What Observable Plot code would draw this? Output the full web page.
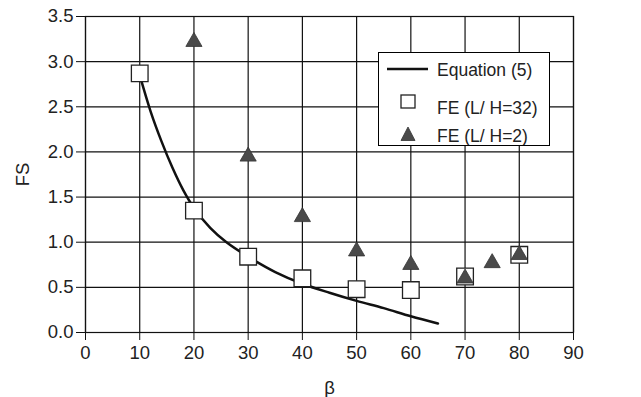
<!DOCTYPE html>
<html>
<head>
<meta charset="utf-8">
<script src="https://cdn.jsdelivr.net/npm/d3@7"></script>
<script src="https://cdn.jsdelivr.net/npm/@observablehq/plot@0.6"></script>
<style>
  html, body { margin: 0; padding: 0; background: #fff; }
  #wrap { position: relative; width: 641px; height: 397px; font-family: "Liberation Sans", Arial, sans-serif; }
  #legend { position: absolute; left: 378px; top: 52px; width: 172px; height: 94px; box-sizing: border-box; border: 1.3px solid #000; background: #fff; }
</style>
</head>
<body>
<div id="wrap">
  <div id="chart"></div>
  <div id="legend">
    <svg width="170" height="92" style="display:block">
      <line x1="8" x2="49" y1="16" y2="16" stroke="#111" stroke-width="2.5"/>
      <text x="58" y="22.5" font-size="17.5" fill="#222" font-family="Liberation Sans, Arial, sans-serif">Equation (5)</text>
      <rect x="22" y="42" width="14" height="13" fill="#fff" stroke="#222" stroke-width="1.3"/>
      <text x="58" y="61" font-size="17.5" fill="#222" font-family="Liberation Sans, Arial, sans-serif">FE (L/ H=32)</text>
      <path d="M29,74 L36,87.5 L22,87.5 Z" fill="#4a4a4a" stroke="#333" stroke-width="0.8"/>
      <text x="58" y="88.5" font-size="17.5" fill="#222" font-family="Liberation Sans, Arial, sans-serif">FE (L/ H=2)</text>
    </svg>
  </div>
</div>
<script>
// Equation (5) curve
const eqBeta = [10, 12, 14, 16, 18, 20, 23, 26, 30, 35, 40, 45, 50, 55, 60, 65];
const eqFS   = [2.85, 2.45, 2.12, 1.83, 1.58, 1.38, 1.16, 1.00, 0.84, 0.67, 0.54, 0.44, 0.35, 0.27, 0.18, 0.10];

// FE (L/H=32) squares
const fe32Beta = [10, 20, 30, 40, 50, 60, 70, 80];
const fe32FS   = [2.87, 1.35, 0.84, 0.60, 0.48, 0.47, 0.62, 0.86];

// FE (L/H=2) triangles
const fe2Beta = [20, 30, 40, 50, 60, 70, 75, 80];
const fe2FS   = [3.22, 1.95, 1.28, 0.90, 0.75, 0.60, 0.77, 0.86];

const xTicks = [0, 10, 20, 30, 40, 50, 60, 70, 80, 90];
const yTicks = [0, 0.5, 1.0, 1.5, 2.0, 2.5, 3.0, 3.5];

const eq = eqBeta.map((b, i) => ({beta: b, fs: eqFS[i]}));
const fe32 = fe32Beta.map((b, i) => ({beta: b, fs: fe32FS[i]}));
const fe2 = fe2Beta.map((b, i) => ({beta: b, fs: fe2FS[i]}));

const chart = Plot.plot({
  width: 641,
  height: 397,
  marginLeft: 85,
  marginRight: 68,
  marginTop: 16,
  marginBottom: 65,
  style: {fontFamily: "Liberation Sans, Arial, sans-serif", fontSize: "18px", color: "#222", background: "#fff"},
  x: {domain: [0, 90]},
  y: {domain: [0, 3.5]},
  marks: [
    Plot.gridX(xTicks, {stroke: "#111", strokeOpacity: 1, strokeWidth: 1.2}),
    Plot.gridY(yTicks, {stroke: "#111", strokeOpacity: 1, strokeWidth: 1.2}),
    Plot.frame({stroke: "#111", strokeWidth: 1.2}),
    Plot.axisX(xTicks, {tickSize: 8, tickPadding: 5, fontSize: 18.5, stroke: "#111",
      label: "β", labelAnchor: "center", labelArrow: "none", labelOffset: 61}),
    Plot.axisY(yTicks, {tickSize: 9, tickPadding: 3, tickFormat: d3.format(".1f"), fontSize: 18.5, stroke: "#111",
      label: "FS", labelAnchor: "center", labelArrow: "none", labelOffset: 70}),
    Plot.line(eq, {x: "beta", y: "fs", curve: "catmull-rom", stroke: "#111", strokeWidth: 2.5}),
    Plot.dot(fe32, {x: "beta", y: "fs", symbol: "square", r: 9.4, fill: "white", stroke: "#222", strokeWidth: 1.3}),
    Plot.dot(fe2, {x: "beta", y: "fs", symbol: "triangle", r: 6, fill: "#4a4a4a", stroke: "#333", strokeWidth: 0.8})
  ]
});
document.getElementById("chart").appendChild(chart);
</script>
</body>
</html>
